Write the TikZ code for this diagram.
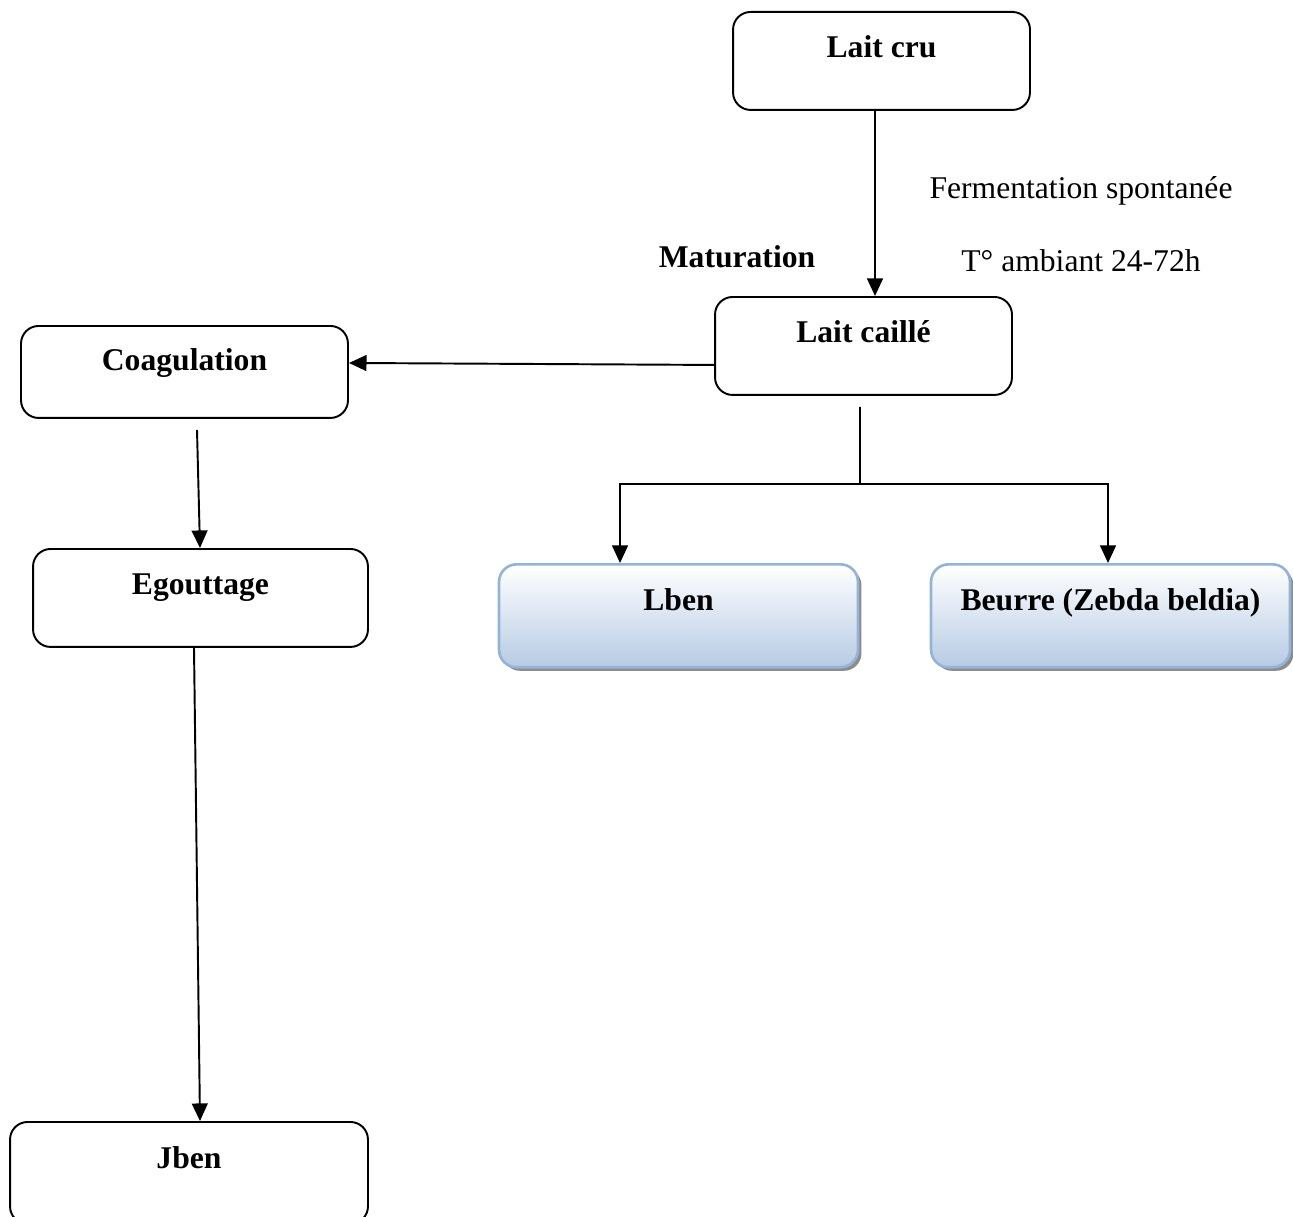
\documentclass[tikz,border=0pt]{standalone}
\usepackage{fontspec}
\setmainfont{Liberation Serif}
\usetikzlibrary{arrows.meta,shadows}

\definecolor{boxblue}{HTML}{95B3D7}
\definecolor{fillblue}{HTML}{B6CBE4}

\tikzset{
  stepbox/.style={draw, line width=1.1pt, rounded corners=10pt, anchor=north,
    font=\fontsize{18}{22}\selectfont\bfseries, inner ysep=0pt, text height=0.92cm, text depth=1.04cm},
  prodbox/.style={stepbox, draw=boxblue, line width=1.5pt, top color=white, bottom color=fillblue,
    drop shadow={shadow xshift=2pt, shadow yshift=-2pt, fill=black!45, opacity=1},
    minimum width=7.18cm, text depth=1.14cm},
  flow/.style={line width=1.1pt, -{Triangle[width=9pt,length=10pt]}}
}

\begin{document}
\begin{tikzpicture}[x=0.02cm, y=-0.02cm, font=\fontsize{18}{22}\selectfont]
  \useasboundingbox (0,0) rectangle (1293,1216);

  % boites
  \node[stepbox, minimum width=5.94cm] (cru) at (881.5,11) {Lait cru};
  \node[stepbox, minimum width=5.94cm] (caille) at (863.5,296) {Lait caillé};
  \node[stepbox, minimum width=6.54cm, text height=0.9cm, text depth=0.94cm] (coag) at (184.5,325) {Coagulation};
  \node[stepbox, minimum width=6.7cm] (egout) at (200.5,548) {Egouttage};
  \node[stepbox, minimum width=7.16cm, text height=0.94cm, text depth=1.1cm] (jben) at (189,1121) {Jben};
  \node[prodbox] (lben) at (678.5,563) {Lben};
  \node[prodbox] (beurre) at (1110.5,563) {Beurre (Zebda beldia)};

  % textes
  \node (ferm) at (1081,191) {Fermentation spontanée};
  \node (temp) at (1081,261) {T° ambiant 24-72h};
  \node[font=\fontsize{18}{22}\selectfont\bfseries] (matur) at (737,257) {Maturation};

  % fleches
  \draw[flow] ([xshift=-0.13cm]cru.south) -- ([xshift=0.23cm]caille.north);
  \draw[flow] ([yshift=-0.38cm]caille.west) -- ([yshift=0.18cm]coag.east);
  \draw[flow] ([xshift=0.25cm,yshift=-0.22cm]coag.south) -- ([xshift=-0.01cm]egout.north);
  \draw[flow] ([xshift=-0.13cm]egout.south) -- ([xshift=0.22cm]jben.north);

  \coordinate (fork) at (860,484);
  \draw[line width=1.1pt] ([xshift=-0.07cm,yshift=-0.22cm]caille.south) -- (fork);
  \draw[flow] (fork) -| ([xshift=-1.17cm]lben.north);
  \draw[flow] (fork) -| ([xshift=-0.05cm]beurre.north);
\end{tikzpicture}
\end{document}
